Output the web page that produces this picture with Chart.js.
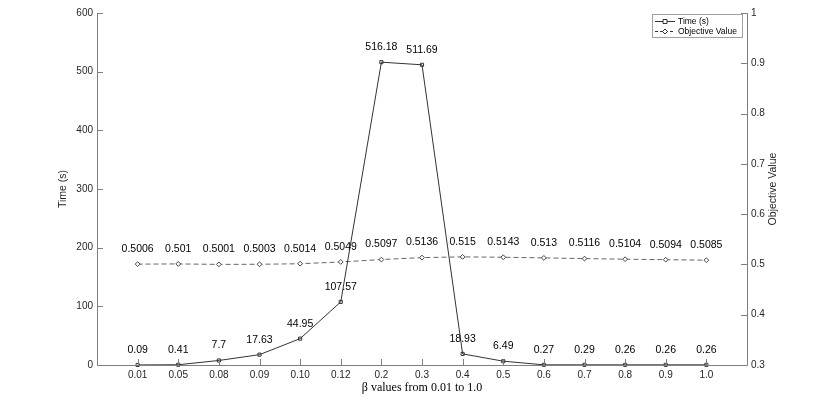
<!DOCTYPE html>
<html>
<head>
<meta charset="utf-8">
<script src="https://cdn.jsdelivr.net/npm/chart.js@4.4.1/dist/chart.umd.min.js"></script>
<style>
  html, body { margin: 0; padding: 0; background: #fff; }
  #wrap { width: 830px; height: 416px; }
</style>
</head>
<body>
<div id="wrap"><canvas id="chart" width="830" height="416"></canvas></div>
<script>
// beta values on the x axis
const betaLabels = ['0.01', '0.05', '0.08', '0.09', '0.10', '0.12', '0.2', '0.3', '0.4', '0.5', '0.6', '0.7', '0.8', '0.9', '1.0'];
// run time in seconds (left axis)
const timeVals = [0.09, 0.41, 7.7, 17.63, 44.95, 107.57, 516.18, 511.69, 18.93, 6.49, 0.27, 0.29, 0.26, 0.26, 0.26];
// objective value (right axis)
const objVals = [0.5006, 0.501, 0.5001, 0.5003, 0.5014, 0.5049, 0.5097, 0.5136, 0.515, 0.5143, 0.513, 0.5116, 0.5104, 0.5094, 0.5085];
const timeTicks = [0, 100, 200, 300, 400, 500, 600];
const objTicks = [0.3, 0.4, 0.5, 0.6, 0.7, 0.8, 0.9, 1];

const axisColor = '#7f7f7f';
const textColor = '#262626';
const tickFont = { family: 'Liberation Sans', size: 10 };

// matlab style: inward ticks, axis lines, value labels, legend box
const matlabAxes = {
    id: 'matlabAxes',
    afterDatasetsDraw(chart) {
        const ctx = chart.ctx;
        const area = chart.chartArea;
        const x = chart.scales.x, y = chart.scales.y, y1 = chart.scales.y1;
        ctx.save();
        ctx.strokeStyle = axisColor;
        ctx.lineWidth = 1;
        ctx.beginPath();
        ctx.moveTo(area.left + 0.5, area.top);
        ctx.lineTo(area.left + 0.5, area.bottom + 0.5);
        ctx.lineTo(area.right + 0.5, area.bottom + 0.5);
        ctx.lineTo(area.right + 0.5, area.top);
        for (const v of timeTicks) {
            const py = Math.round(y.getPixelForValue(v)) + 0.5;
            ctx.moveTo(area.left, py);
            ctx.lineTo(area.left + 6, py);
        }
        for (const v of objTicks) {
            const py = Math.round(y1.getPixelForValue(v)) + 0.5;
            ctx.moveTo(area.right, py);
            ctx.lineTo(area.right - 6, py);
        }
        betaLabels.forEach((l, i) => {
            const px = Math.round(x.getPixelForValue(i + 1)) + 0.5;
            ctx.moveTo(px, area.bottom);
            ctx.lineTo(px, area.bottom - 6);
        });
        ctx.stroke();

        // value labels above each point
        ctx.fillStyle = '#000';
        ctx.font = '10.5px "Liberation Sans"';
        ctx.textAlign = 'center';
        ctx.textBaseline = 'middle';
        chart.getDatasetMeta(0).data.forEach((p, i) => {
            ctx.fillText(String(timeVals[i]), p.x, p.y - 15);
        });
        chart.getDatasetMeta(1).data.forEach((p, i) => {
            ctx.fillText(String(objVals[i]), p.x, p.y - 15);
        });

        // right axis title, reads bottom to top
        ctx.save();
        ctx.translate(773, (area.top + area.bottom) / 2);
        ctx.rotate(-Math.PI / 2);
        ctx.fillStyle = textColor;
        ctx.font = '10.5px "Liberation Sans"';
        ctx.fillText('Objective Value', 0, 0);
        ctx.restore();

        // legend
        const lx = 652, ly = 14, lw = 90, lh = 23;
        ctx.fillStyle = '#fff';
        ctx.fillRect(lx, ly, lw, lh);
        ctx.strokeStyle = '#a0a0a0';
        ctx.strokeRect(lx + 0.5, ly + 0.5, lw, lh);
        const rows = [
            { text: 'Time (s)', dash: [], marker: 'rect', y: ly + 7 },
            { text: 'Objective Value', dash: [3, 2], marker: 'rectRot', y: ly + 17 }
        ];
        for (const r of rows) {
            ctx.strokeStyle = '#333';
            ctx.setLineDash(r.dash);
            ctx.beginPath();
            ctx.moveTo(lx + 3, r.y + 0.5);
            ctx.lineTo(lx + 23, r.y + 0.5);
            ctx.stroke();
            ctx.setLineDash([]);
            ctx.fillStyle = '#fff';
            ctx.beginPath();
            if (r.marker === 'rect') {
                ctx.rect(lx + 11, r.y - 1.5, 4, 4);
            } else {
                ctx.moveTo(lx + 13, r.y - 2);
                ctx.lineTo(lx + 15.5, r.y + 0.5);
                ctx.lineTo(lx + 13, r.y + 3);
                ctx.lineTo(lx + 10.5, r.y + 0.5);
                ctx.closePath();
            }
            ctx.fill();
            ctx.stroke();
            ctx.fillStyle = '#000';
            ctx.textAlign = 'left';
            ctx.font = '8.5px "Liberation Sans"';
            ctx.fillText(r.text, lx + 26, r.y + 0.5);
        }
        ctx.restore();
    }
};

new Chart(document.getElementById('chart'), {
    type: 'line',
    data: {
        datasets: [{
            label: 'Time (s)',
            data: timeVals.map((v, i) => ({ x: i + 1, y: v })),
            yAxisID: 'y',
            borderColor: '#333',
            borderWidth: 1,
            pointStyle: 'rect',
            pointRadius: 2.2,
            pointBackgroundColor: 'rgba(255,255,255,0)',
            pointBorderColor: '#333',
            pointBorderWidth: 1,
            tension: 0
        }, {
            label: 'Objective Value',
            data: objVals.map((v, i) => ({ x: i + 1, y: v })),
            yAxisID: 'y1',
            borderColor: '#666',
            borderWidth: 1,
            borderDash: [5, 3],
            pointStyle: 'rectRot',
            pointRadius: 2.4,
            pointBackgroundColor: '#fff',
            pointBorderColor: '#444',
            pointBorderWidth: 1,
            tension: 0
        }]
    },
    options: {
        responsive: false,
        animation: false,
        clip: false,
        layout: { padding: { left: 52, top: 13, right: 0, bottom: 0 } },
        plugins: { legend: { display: false }, tooltip: { enabled: false } },
        scales: {
            x: {
                type: 'linear',
                min: 0,
                max: 16,
                afterBuildTicks: s => { s.ticks = betaLabels.map((l, i) => ({ value: i + 1 })); },
                afterFit: s => { s.height = 51; },
                grid: { display: false, drawTicks: false },
                border: { display: false },
                ticks: {
                    color: textColor,
                    font: tickFont,
                    padding: 4,
                    maxRotation: 0,
                    autoSkip: false,
                    callback: v => betaLabels[v - 1]
                },
                title: {
                    display: true,
                    text: 'β values from 0.01 to 1.0',
                    color: '#000',
                    font: { family: 'Liberation Serif', size: 12 },
                    padding: { top: 0, bottom: 21 }
                }
            },
            y: {
                position: 'left',
                min: 0,
                max: 600,
                afterBuildTicks: s => { s.ticks = timeTicks.map(v => ({ value: v })); },
                afterFit: s => { s.width = 45; },
                grid: { display: false, drawTicks: false },
                border: { display: false },
                ticks: { color: textColor, font: tickFont, padding: 4 },
                title: {
                    display: true,
                    text: 'Time (s)',
                    color: textColor,
                    font: { family: 'Liberation Sans', size: 10.5 },
                    padding: { top: 5, bottom: 0 }
                }
            },
            y1: {
                position: 'right',
                min: 0.3,
                max: 1,
                afterBuildTicks: s => { s.ticks = objTicks.map(v => ({ value: v })); },
                afterFit: s => { s.width = 83; },
                grid: { display: false, drawTicks: false },
                border: { display: false },
                ticks: {
                    color: textColor,
                    font: tickFont,
                    padding: 4,
                    callback: v => String(+v.toFixed(1))
                }
            }
        }
    },
    plugins: [matlabAxes]
});
</script>
</body>
</html>
